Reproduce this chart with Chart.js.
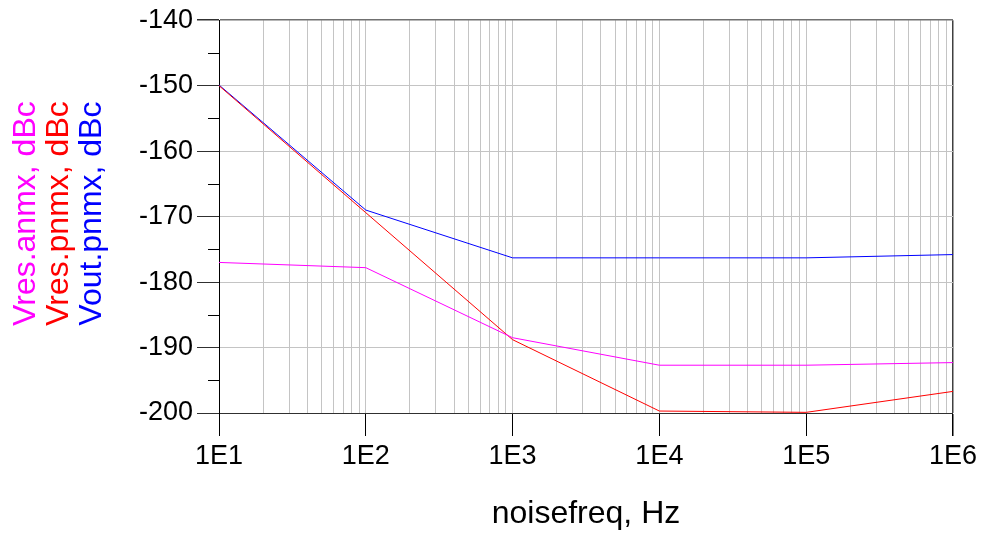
<!DOCTYPE html>
<html>
<head>
<meta charset="utf-8">
<script src="https://cdn.jsdelivr.net/npm/chart.js@4/dist/chart.umd.min.js"></script>
<style>
  html, body { margin: 0; padding: 0; background: #fff; }
  #wrap { width: 981px; height: 533px; }
</style>
</head>
<body>
<div id="wrap"><canvas id="chart1"></canvas></div>
<script>
// noise frequency in Hz (one point per decade)
const noisefreq = [1e1, 1e2, 1e3, 1e4, 1e5, 1e6];

// dBc
const vresAnmx = [-177.0, -177.8, -188.5, -192.7, -192.7, -192.3];
const vresPnmx = [-150.0, -169.4, -188.8, -199.7, -199.9, -196.7];
const voutPnmx = [-149.9, -169.0, -176.3, -176.3, -176.3, -175.8];

const decades = [1e1, 1e2, 1e3, 1e4, 1e5, 1e6];
const decadeLabels = ["1E1", "1E2", "1E3", "1E4", "1E5", "1E6"];
const minorSteps = [2, 3, 4, 5, 6, 7, 8, 9];

const yMajor = [-200, -190, -180, -170, -160, -150, -140];
const yMinor = [-195, -185, -175, -165, -155, -145];

const seriesNames = ["Vres.anmx, dBc", "Vres.pnmx, dBc", "Vout.pnmx, dBc"];
const seriesColors = ["#ff00ff", "#ff0000", "#0000ff"];

const font = "'Liberation Sans', Arial, sans-serif";

const toPoints = (ys) => noisefreq.map((x, i) => ({ x, y: ys[i] }));

const xTickValues = [];
decades.forEach((d, i) => {
    xTickValues.push(d);
    if (i < decades.length - 1) minorSteps.forEach((m) => xTickValues.push(d * m));
});

// stacked, rotated y titles in their own colours + the short minor ticks
const sideStuff = {
    id: "sideStuff",
    afterDraw(chart) {
        const { ctx, chartArea, scales } = chart;
        ctx.save();
        ctx.strokeStyle = "#000";
        ctx.lineWidth = 1;
        yMinor.forEach((v) => {
            const y = Math.round(scales.y.getPixelForValue(v)) + 0.5;
            ctx.beginPath();
            ctx.moveTo(chartArea.left - 11, y);
            ctx.lineTo(chartArea.left, y);
            ctx.stroke();
        });
        const cy = (chartArea.top + chartArea.bottom) / 2 - 3;
        const xs = [26, 59, 92];
        ctx.font = "32px " + font;
        ctx.textAlign = "center";
        ctx.textBaseline = "middle";
        seriesNames.forEach((name, i) => {
            ctx.save();
            ctx.translate(xs[i], cy);
            ctx.rotate(-Math.PI / 2);
            ctx.fillStyle = seriesColors[i];
            ctx.fillText(name, 0, 0);
            ctx.restore();
        });
        ctx.restore();
    },
};

const data = {
    datasets: [
        { label: seriesNames[0], data: toPoints(vresAnmx), borderColor: seriesColors[0] },
        { label: seriesNames[1], data: toPoints(vresPnmx), borderColor: seriesColors[1] },
        { label: seriesNames[2], data: toPoints(voutPnmx), borderColor: seriesColors[2] },
    ].map((d) => ({ ...d, borderWidth: 1, pointRadius: 0, fill: false, tension: 0 })),
};

const options = {
    responsive: true,
    maintainAspectRatio: false,
    animation: false,
    showLine: true,
    layout: { padding: { top: 20, right: 27, left: 0, bottom: 0 } },
    plugins: {
        legend: { display: false },
        tooltip: { enabled: false },
    },
    scales: {
        x: {
            type: "logarithmic",
            min: 10,
            max: 1e6,
            afterBuildTicks: (scale) => {
                scale.ticks = xTickValues.map((value) => ({ value }));
            },
            afterFit: (scale) => {
                scale.height = 120;
            },
            border: { color: "#303030", width: 1 },
            grid: {
                color: (c) => (c.tick && c.tick.value === 1e6 ? "#404040" : "#c4c4c4"),
                tickColor: (c) => (c.tick && decades.includes(c.tick.value) ? "#000" : "rgba(0,0,0,0)"),
                tickLength: 23,
                lineWidth: (c) => (c.tick && c.tick.value === 1e6 ? 1.5 : 1),
            },
            ticks: {
                autoSkip: false,
                maxRotation: 0,
                padding: 4,
                color: "#000",
                font: { family: font, size: 27 },
                callback: (v) => {
                    const i = decades.indexOf(v);
                    return i >= 0 ? decadeLabels[i] : "";
                },
            },
            title: {
                display: true,
                text: "noisefreq, Hz",
                color: "#000",
                font: { family: font, size: 32 },
                padding: { top: 22, bottom: 0 },
            },
        },
        y: {
            min: -200,
            max: -140,
            afterBuildTicks: (scale) => {
                scale.ticks = yMajor.map((value) => ({ value }));
            },
            afterFit: (scale) => {
                scale.width = 219;
            },
            border: { color: "#000", width: 1 },
            grid: {
                color: (c) => (c.tick && c.tick.value === -140 ? "#707070" : "#c4c4c4"),
                tickColor: "#303030",
                tickLength: 22,
                lineWidth: (c) => (c.tick && c.tick.value === -140 ? 1.5 : 1),
            },
            ticks: {
                padding: 4,
                color: "#000",
                font: { family: font, size: 27 },
            },
        },
    },
};

new Chart(document.getElementById("chart1"), {
    type: "scatter",
    data,
    options,
    plugins: [sideStuff],
});
</script>
</body>
</html>
